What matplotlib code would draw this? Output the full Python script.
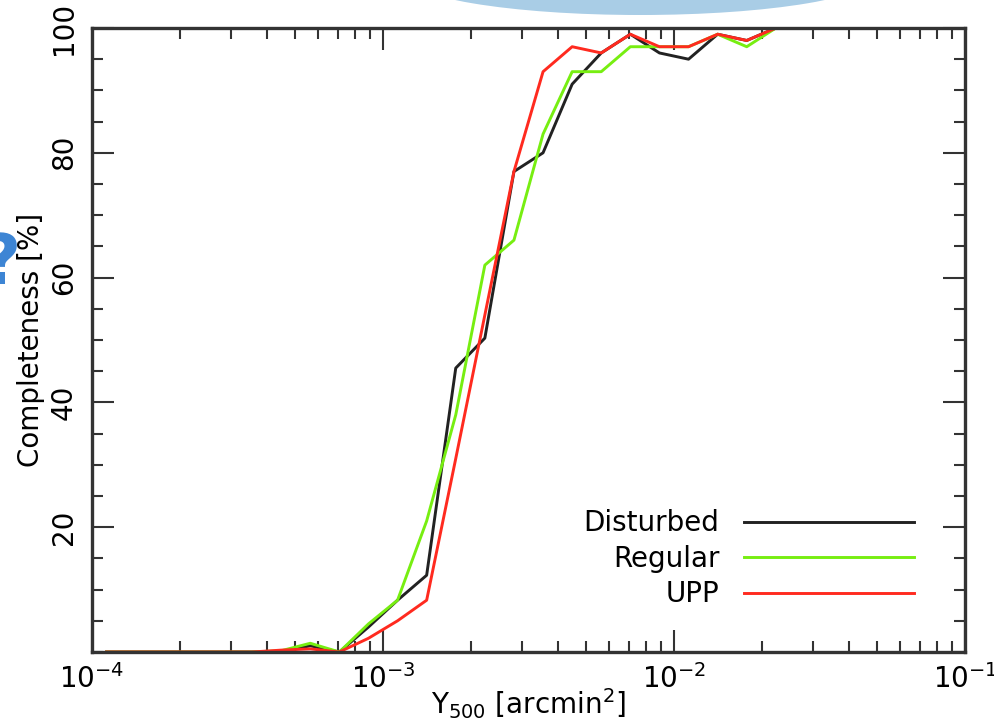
import matplotlib
matplotlib.use("Agg")
import matplotlib.pyplot as plt
from matplotlib.patches import Ellipse
from matplotlib.ticker import FixedLocator, MultipleLocator, LogLocator, NullFormatter
import numpy as np

# log10(Y500) bin centres
log_y500 = [-3.95, -3.85, -3.75, -3.65, -3.55, -3.45, -3.35, -3.25, -3.15,
            -3.05, -2.95, -2.85, -2.75, -2.65, -2.55, -2.45, -2.35, -2.25,
            -2.15, -2.05, -1.95, -1.85, -1.75, -1.65]

disturbed = [0, 0, 0, 0, 0, 0, 0, 1.0, 0, 4, 8.3, 12.3, 45.5, 50.3, 77, 80,
             91, 96, 99, 96, 95, 99, 98, 100]
regular = [0, 0, 0, 0, 0, 0, 0.2, 1.4, 0, 4.5, 8.3, 21, 38, 62, 66, 83,
           93, 93, 97, 97, 97, 99, 97, 100]
upp = [0, 0, 0, 0, 0, 0, 0.3, 0.5, 0, 2.2, 5, 8.3, 31, 54, 77, 93,
       97, 96, 99, 97, 97, 99, 98, 100]

labels = ["Disturbed", "Regular", "UPP"]
colors = ["#222222", "#77ee11", "#ff2a1f"]

plt.rcParams['font.family'] = ['DejaVu Sans']
plt.rcParams['mathtext.fontset'] = 'dejavusans'

fig = plt.figure(figsize=(9.94, 7.24), dpi=100)
ax = fig.add_axes([92 / 994, 72 / 724, 873 / 994, 624 / 724])

x = 10 ** np.array(log_y500)
for series, lab, col in zip([disturbed, regular, upp], labels, colors):
    ax.plot(x, series, color=col, lw=2.1, label=lab)

ax.set_xscale("log")
ax.set_xlim(1e-4, 1e-1)
ax.set_ylim(0, 100)

ax.xaxis.set_major_locator(LogLocator(base=10, numticks=10))
ax.xaxis.set_minor_locator(LogLocator(base=10, subs=np.arange(2, 10), numticks=10))
ax.xaxis.set_minor_formatter(NullFormatter())
ax.yaxis.set_major_locator(FixedLocator([20, 40, 60, 80, 100]))
ax.yaxis.set_minor_locator(MultipleLocator(5))

ax.tick_params(which="both", direction="in", top=True, right=True,
               colors="#333333", width=1.5, labelcolor="black", labelsize=20)
ax.tick_params(which="major", length=16)
ax.tick_params(which="minor", length=8)
ax.tick_params(axis="x", which="major", pad=9)
ax.tick_params(axis="y", which="major", pad=10)
for lab in ax.get_yticklabels():
    lab.set_rotation(90)
    lab.set_va("center")

for sp in ax.spines.values():
    sp.set_linewidth(2.4)
    sp.set_color("#333333")

ax.set_xlabel("Y$_{500}$ [arcmin$^2$]", fontsize=20, labelpad=-6)
ax.set_ylabel("Completeness [%]", fontsize=20, labelpad=4)

ax.legend(loc="lower right", bbox_to_anchor=(0.97, 0.03), frameon=False,
          markerfirst=False, fontsize=20, handlelength=6.1, handletextpad=0.9,
          labelspacing=0.27)

# decorations seen in the screenshot
fig.patches.append(Ellipse((640 / 994, 1 + 25 / 724), 474 / 994, 80 / 724,
                           transform=fig.transFigure, facecolor="#a9cde6",
                           edgecolor="none", zorder=0))
fig.text(0.0, 1 - 265 / 724, "?", color="#3d85d4", fontsize=50,
         fontweight="bold", ha="center", va="center")

fig.savefig("out.png", dpi=100)
